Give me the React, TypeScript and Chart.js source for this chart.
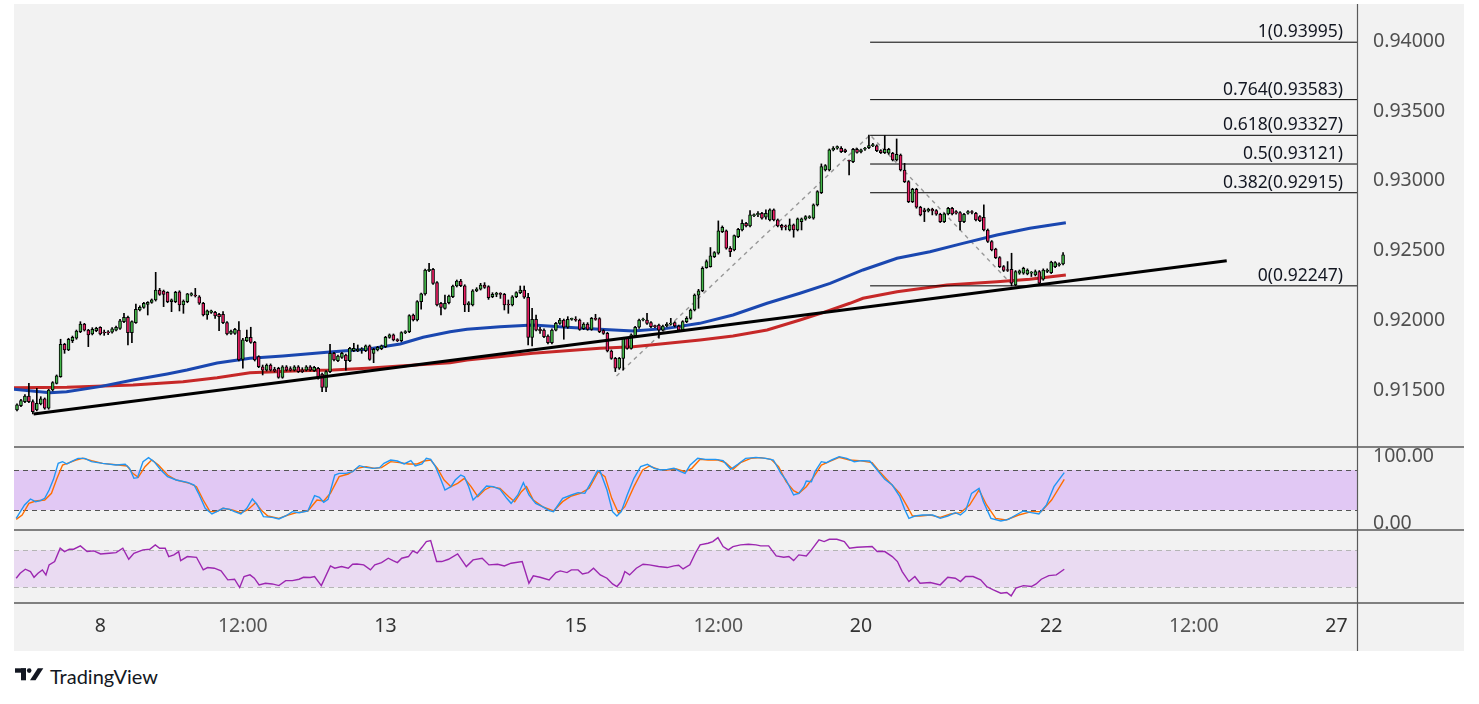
import React, { useEffect, useRef } from "react";
import { Chart, registerables } from "chart.js";

Chart.register(...registerables);

// ---------- DATA (hourly candles, index 0 = 7th 03:00) ----------
const candleOpen = [
  0.91357, 0.91388, 0.91417, 0.91457, 0.91417, 0.91357, 0.914, 0.91436, 0.91369, 0.915,
  0.91548, 0.91596, 0.91828, 0.91787, 0.91854, 0.91871, 0.91918, 0.91973, 0.9193, 0.91902,
  0.91926, 0.9195, 0.91914, 0.91911, 0.91914, 0.9193, 0.91942, 0.9199, 0.92021, 0.91911,
  0.91983, 0.92074, 0.92093, 0.92114, 0.92129, 0.92146, 0.92217, 0.9221, 0.92201, 0.92134,
  0.92134, 0.92205, 0.9211, 0.92134, 0.92181, 0.92179, 0.92169, 0.92122, 0.92038, 0.92057,
  0.92057, 0.92043, 0.92043, 0.91983, 0.91906, 0.91906, 0.9193, 0.9172, 0.91854, 0.91878,
  0.91842, 0.91739, 0.91667, 0.91643, 0.91679, 0.91648, 0.91656, 0.91591, 0.91667, 0.91653,
  0.91643, 0.91667, 0.91643, 0.91643, 0.91667, 0.91639, 0.91656, 0.91615, 0.91519, 0.91632,
  0.91763, 0.91711, 0.91734, 0.91751, 0.91711, 0.91782, 0.91782, 0.91787, 0.91782, 0.91816,
  0.91763, 0.91787, 0.91797, 0.91811, 0.91878, 0.91895, 0.91859, 0.91854, 0.91911, 0.91918,
  0.92038, 0.92002, 0.92134, 0.92189, 0.92356, 0.92365, 0.9227, 0.92122, 0.92086, 0.92126,
  0.92169, 0.92246, 0.92282, 0.92248, 0.9211, 0.9211, 0.92212, 0.92224, 0.92253, 0.92241,
  0.92169, 0.92186, 0.92189, 0.92186, 0.92114, 0.9211, 0.92169, 0.92198, 0.92217, 0.92165,
  0.91878, 0.92007, 0.91935, 0.9193, 0.91887, 0.9184, 0.9193, 0.91978, 0.92002, 0.9195,
  0.92007, 0.92007, 0.92002, 0.9194, 0.91973, 0.91935, 0.92012, 0.92012, 0.91926, 0.91906,
  0.9178, 0.91727, 0.91656, 0.91727, 0.91871, 0.91799, 0.91887, 0.9195, 0.92002, 0.92002,
  0.91983, 0.91959, 0.91966, 0.9193, 0.91959, 0.91973, 0.91983, 0.91959, 0.9193, 0.9199,
  0.92014, 0.92074, 0.92181, 0.92212, 0.92378, 0.92385, 0.92457, 0.92481, 0.92636, 0.92641,
  0.92517, 0.92505, 0.926, 0.92648, 0.92696, 0.92677, 0.92751, 0.92756, 0.92768, 0.92739,
  0.9272, 0.92792, 0.9272, 0.92682, 0.92672, 0.92648, 0.92684, 0.92648, 0.92708, 0.92725,
  0.92737, 0.92732, 0.92828, 0.92916, 0.93078, 0.93078, 0.93222, 0.93234, 0.93234, 0.93222,
  0.93145, 0.93138, 0.93227, 0.93208, 0.93227, 0.93239, 0.93253, 0.93251, 0.93217, 0.93203,
  0.93198, 0.93198, 0.9315, 0.93186, 0.93078, 0.92995, 0.92851, 0.9294, 0.92811, 0.92792,
  0.92784, 0.92796, 0.92787, 0.92761, 0.92708, 0.92763, 0.92804, 0.9278, 0.92773, 0.92708,
  0.92768, 0.92775, 0.92768, 0.92744, 0.92739, 0.92648, 0.92565, 0.9251, 0.9245, 0.92385,
  0.92361, 0.92366, 0.92254, 0.92338, 0.92338, 0.92333, 0.92338, 0.92326, 0.9235, 0.92295,
  0.9235, 0.92342, 0.92385, 0.92395, 0.92405,
];
const candleHigh = [
  0.914, 0.91433, 0.91467, 0.91548, 0.91429, 0.91512, 0.91452, 0.91443, 0.91505, 0.9156,
  0.91608, 0.91864, 0.91835, 0.91871, 0.91887, 0.9193, 0.9199, 0.91978, 0.91935, 0.91947,
  0.9195, 0.91954, 0.9193, 0.91926, 0.91947, 0.91959, 0.92007, 0.9205, 0.92031, 0.91997,
  0.92117, 0.92103, 0.92129, 0.92134, 0.92153, 0.92344, 0.92229, 0.92217, 0.92205, 0.92153,
  0.92208, 0.92212, 0.92146, 0.92193, 0.92198, 0.92229, 0.92177, 0.92129, 0.92074, 0.92074,
  0.92064, 0.9205, 0.92062, 0.9199, 0.9193, 0.91942, 0.9199, 0.91871, 0.9193, 0.9195,
  0.91849, 0.91746, 0.91679, 0.91687, 0.91687, 0.91663, 0.91663, 0.91675, 0.91675, 0.91667,
  0.91675, 0.91675, 0.9166, 0.91675, 0.91675, 0.9167, 0.91663, 0.91622, 0.91639, 0.91828,
  0.9177, 0.91751, 0.9177, 0.91758, 0.91806, 0.91835, 0.91823, 0.91804, 0.91823, 0.91823,
  0.91799, 0.91813, 0.91823, 0.91885, 0.91902, 0.91902, 0.91868, 0.91918, 0.91926, 0.9204,
  0.92045, 0.92141, 0.92196, 0.92368, 0.92408, 0.92373, 0.92277, 0.92129, 0.92181, 0.92181,
  0.92253, 0.92289, 0.92294, 0.92255, 0.92134, 0.9222, 0.92234, 0.92265, 0.9227, 0.92248,
  0.92198, 0.92201, 0.92198, 0.92193, 0.92146, 0.92177, 0.92205, 0.92246, 0.92246, 0.92193,
  0.92086, 0.92038, 0.9195, 0.91938, 0.91895, 0.91938, 0.91985, 0.92014, 0.92009, 0.92026,
  0.92016, 0.92026, 0.92009, 0.91983, 0.91983, 0.92021, 0.92043, 0.92019, 0.91933, 0.91914,
  0.91787, 0.91734, 0.91734, 0.91878, 0.91878, 0.91902, 0.91957, 0.92009, 0.92016, 0.9205,
  0.9199, 0.91966, 0.91973, 0.91966, 0.91983, 0.92014, 0.9199, 0.91966, 0.91997, 0.92026,
  0.92081, 0.92189, 0.92222, 0.92384, 0.92433, 0.92522, 0.92493, 0.92713, 0.92677, 0.92648,
  0.92529, 0.92612, 0.9266, 0.9272, 0.92703, 0.92787, 0.92763, 0.9278, 0.92775, 0.92792,
  0.92799, 0.92799, 0.92727, 0.92689, 0.92684, 0.92727, 0.92691, 0.92734, 0.92734, 0.92751,
  0.92751, 0.92835, 0.9293, 0.93122, 0.93117, 0.93229, 0.93246, 0.93251, 0.93246, 0.93229,
  0.9315, 0.93234, 0.93234, 0.93229, 0.93241, 0.93329, 0.9327, 0.93258, 0.93224, 0.93325,
  0.93234, 0.93205, 0.93301, 0.93193, 0.93126, 0.93002, 0.92947, 0.92947, 0.92818, 0.92804,
  0.92804, 0.92804, 0.92794, 0.92768, 0.9277, 0.92811, 0.92811, 0.92787, 0.9278, 0.92768,
  0.92787, 0.92787, 0.92775, 0.92751, 0.92828, 0.92655, 0.92572, 0.92517, 0.92457, 0.92393,
  0.92421, 0.92481, 0.92357, 0.92361, 0.92381, 0.92369, 0.9235, 0.92361, 0.92357, 0.92369,
  0.92369, 0.92424, 0.92421, 0.92412, 0.92486,
];
const candleLow = [
  0.9135, 0.91381, 0.91409, 0.91409, 0.91328, 0.9135, 0.91393, 0.91362, 0.91362, 0.91493,
  0.91543, 0.91591, 0.91763, 0.91782, 0.9184, 0.91864, 0.91911, 0.91923, 0.91811, 0.91895,
  0.91918, 0.91895, 0.91892, 0.91897, 0.91907, 0.91923, 0.91935, 0.91983, 0.91823, 0.9184,
  0.91978, 0.92067, 0.92086, 0.92038, 0.92122, 0.92138, 0.92179, 0.92098, 0.92126, 0.92062,
  0.92126, 0.92067, 0.9205, 0.92126, 0.92174, 0.92167, 0.92114, 0.92031, 0.92007, 0.9205,
  0.92014, 0.91926, 0.91976, 0.91895, 0.91899, 0.91899, 0.91708, 0.91656, 0.91847, 0.91835,
  0.91708, 0.9166, 0.91608, 0.91636, 0.91636, 0.91629, 0.91584, 0.91584, 0.91636, 0.91636,
  0.91636, 0.91625, 0.91625, 0.91636, 0.91636, 0.91632, 0.91577, 0.91488, 0.91488, 0.91625,
  0.91708, 0.91703, 0.91727, 0.91643, 0.91703, 0.91775, 0.91775, 0.91763, 0.91775, 0.91713,
  0.91696, 0.9178, 0.91789, 0.91804, 0.91871, 0.91852, 0.91847, 0.91847, 0.91904, 0.91911,
  0.91995, 0.91995, 0.92079, 0.92181, 0.92349, 0.92258, 0.92103, 0.92038, 0.92079, 0.92117,
  0.92162, 0.92239, 0.92241, 0.92062, 0.92062, 0.92103, 0.92205, 0.92217, 0.92229, 0.9215,
  0.92162, 0.92169, 0.92157, 0.92074, 0.9205, 0.92103, 0.92162, 0.92191, 0.92157, 0.91823,
  0.91816, 0.91923, 0.91906, 0.91875, 0.9183, 0.9183, 0.91923, 0.91971, 0.91864, 0.91942,
  0.92, 0.91993, 0.91928, 0.91933, 0.91928, 0.91928, 0.92, 0.91911, 0.91899, 0.91773,
  0.9172, 0.91632, 0.91648, 0.91643, 0.91792, 0.91792, 0.91878, 0.91942, 0.91995, 0.91971,
  0.91947, 0.91947, 0.91871, 0.91923, 0.91952, 0.91966, 0.91952, 0.91923, 0.91923, 0.91983,
  0.92007, 0.92067, 0.92086, 0.92205, 0.92373, 0.92381, 0.9245, 0.92474, 0.92629, 0.9251,
  0.92457, 0.92498, 0.92593, 0.92641, 0.9267, 0.9267, 0.92744, 0.92744, 0.92725, 0.92725,
  0.92713, 0.92713, 0.9267, 0.92648, 0.92648, 0.92641, 0.92596, 0.92641, 0.92648, 0.92718,
  0.9273, 0.92725, 0.9282, 0.92909, 0.93071, 0.93071, 0.93215, 0.93227, 0.93203, 0.93203,
  0.93043, 0.93131, 0.93198, 0.932, 0.93219, 0.93231, 0.93246, 0.9321, 0.93196, 0.93196,
  0.93191, 0.93143, 0.93143, 0.93071, 0.92988, 0.92844, 0.92844, 0.92804, 0.92749, 0.92708,
  0.92777, 0.92756, 0.92753, 0.92701, 0.92701, 0.92756, 0.92756, 0.92761, 0.92648, 0.92701,
  0.92761, 0.92763, 0.92713, 0.92708, 0.92641, 0.92558, 0.92498, 0.92443, 0.92378, 0.9235,
  0.9235, 0.92247, 0.92247, 0.9233, 0.9233, 0.92326, 0.92314, 0.92318, 0.92259, 0.92287,
  0.92342, 0.92335, 0.92378, 0.92388, 0.92397,
];
const candleClose = [
  0.91393, 0.91424, 0.91457, 0.91417, 0.91345, 0.91405, 0.91436, 0.91369, 0.915, 0.91553,
  0.91601, 0.91828, 0.91787, 0.91864, 0.91878, 0.91923, 0.91973, 0.9193, 0.91895, 0.91935,
  0.91942, 0.91902, 0.91909, 0.9191, 0.91938, 0.9195, 0.91997, 0.92021, 0.91911, 0.9199,
  0.92079, 0.92093, 0.92122, 0.92129, 0.92146, 0.92217, 0.92186, 0.92186, 0.92134, 0.92146,
  0.92201, 0.9211, 0.92138, 0.92189, 0.92191, 0.92174, 0.92122, 0.92038, 0.92067, 0.92067,
  0.92031, 0.92026, 0.91983, 0.91902, 0.91923, 0.91935, 0.91715, 0.91859, 0.91878, 0.91842,
  0.91715, 0.91667, 0.91643, 0.91679, 0.91643, 0.91636, 0.91591, 0.91667, 0.91643, 0.91643,
  0.91667, 0.91632, 0.91632, 0.91667, 0.91643, 0.91663, 0.91584, 0.91519, 0.91632, 0.91763,
  0.91715, 0.91744, 0.91763, 0.91711, 0.91799, 0.91799, 0.91792, 0.91794, 0.91816, 0.9172,
  0.91792, 0.91806, 0.91816, 0.91878, 0.91895, 0.91859, 0.91854, 0.91911, 0.91918, 0.92033,
  0.92002, 0.92134, 0.92189, 0.92361, 0.92365, 0.92265, 0.9211, 0.92093, 0.92122, 0.92174,
  0.92246, 0.92282, 0.92248, 0.9211, 0.92126, 0.92212, 0.92224, 0.92253, 0.92236, 0.92162,
  0.92186, 0.92191, 0.92186, 0.9211, 0.9211, 0.92169, 0.92198, 0.92217, 0.92165, 0.91878,
  0.92007, 0.9193, 0.91926, 0.91882, 0.9184, 0.9193, 0.91978, 0.92002, 0.9195, 0.92007,
  0.92009, 0.92, 0.91935, 0.91973, 0.91935, 0.92014, 0.92007, 0.91918, 0.91906, 0.9178,
  0.91727, 0.91656, 0.91727, 0.91871, 0.91799, 0.91895, 0.9195, 0.92002, 0.92007, 0.91978,
  0.91954, 0.91954, 0.9193, 0.91959, 0.91973, 0.91978, 0.91959, 0.9193, 0.9199, 0.92014,
  0.92074, 0.92181, 0.92212, 0.92373, 0.92421, 0.92462, 0.92486, 0.92641, 0.92667, 0.92517,
  0.92493, 0.92608, 0.92653, 0.92696, 0.92677, 0.92756, 0.92756, 0.92768, 0.92732, 0.92768,
  0.92792, 0.9272, 0.92677, 0.92667, 0.9267, 0.92684, 0.92648, 0.92727, 0.92727, 0.92744,
  0.92742, 0.92828, 0.92923, 0.93102, 0.9311, 0.93222, 0.93234, 0.93246, 0.9321, 0.9321,
  0.93141, 0.93227, 0.93205, 0.93222, 0.93234, 0.93253, 0.93258, 0.93217, 0.93203, 0.93227,
  0.93227, 0.9315, 0.93191, 0.93078, 0.92995, 0.92851, 0.9294, 0.92811, 0.92756, 0.9278,
  0.92796, 0.92784, 0.92761, 0.92708, 0.92763, 0.92804, 0.92763, 0.92768, 0.92708, 0.92761,
  0.9278, 0.92773, 0.9272, 0.92715, 0.92648, 0.92565, 0.92505, 0.9245, 0.92385, 0.92357,
  0.92357, 0.92266, 0.9235, 0.92354, 0.92373, 0.92361, 0.92342, 0.9235, 0.92266, 0.92361,
  0.92361, 0.92417, 0.92414, 0.92405, 0.92469,
];

// moving averages [candle index, price]
const maBlue = [
  [-0.8, 0.91505], [8.3, 0.91481], [12.5, 0.91488], [20.9, 0.91524], [29.3, 0.91572], [37.9, 0.91615],
  [42.9, 0.91643], [50.5, 0.91694], [58.8, 0.91727], [67.1, 0.91744], [79.7, 0.91775], [88.3, 0.91792],
  [96.7, 0.9183], [102.5, 0.91878], [109.3, 0.91918], [113.6, 0.91935], [121.9, 0.91954], [130.2, 0.91966],
  [138.8, 0.9195], [147.1, 0.91935], [155.5, 0.91923], [164, 0.91942], [172.3, 0.91978], [180.7, 0.92038],
  [189.3, 0.92122], [197.6, 0.92194], [205.2, 0.92265], [213.5, 0.92361], [222.1, 0.92445], [230.4, 0.92492],
  [238.7, 0.92552], [247.3, 0.92612], [255.6, 0.9266], [264.7, 0.927],
];
const maRed = [
  [-0.8, 0.91516], [12.6, 0.91519], [29.3, 0.91536], [41.9, 0.91559], [50.5, 0.91588], [58.8, 0.91624],
  [71.4, 0.91638], [79.7, 0.91643], [88.3, 0.91656], [96.7, 0.91672], [109.3, 0.91696], [113.6, 0.91715],
  [130.2, 0.91763], [147.1, 0.91799], [155.5, 0.9181], [172.4, 0.91859], [180.7, 0.91887], [189.3, 0.9193],
  [197.6, 0.92002], [203.4, 0.92055], [210.2, 0.92122], [213.5, 0.92158], [222.1, 0.92205], [234.7, 0.92253],
  [247.3, 0.92277], [255.6, 0.92294], [264.7, 0.92325],
];
const trendLine = [[4.2, 0.91328], [305.3, 0.92427]];
const swingPath = [[151.3, 0.916], [215.3, 0.93329], [251.4, 0.92247]];
const fibStartIdx = 215.3;
const fibLevels = [1, 0.764, 0.618, 0.5, 0.382, 0];
const fibPrices = [0.93995, 0.93583, 0.93327, 0.93121, 0.92915, 0.92247];

const stochK = [
  [-0.2, 7.5], [1.9, 27.5], [3.4, 36.5], [4.7, 32.5], [5.9, 34], [7, 37.5], [8.1, 50], [9.2, 66], [10.4, 90],
  [11.5, 92.5], [12.6, 89], [13.7, 92.5], [15.4, 97.5], [17.1, 97.5], [18.8, 92.5], [21.6, 90], [25, 87.5],
  [27.3, 88.5], [28.4, 82.5], [29.5, 67.5], [30.4, 68.5], [31.8, 92.5], [33.2, 98.5], [34.6, 92.5], [36.3, 80],
  [38, 70], [40.2, 65], [43, 61.5], [44.7, 57.5], [45.8, 45], [47.5, 22.5], [49.2, 14], [50.9, 19], [52, 22.5],
  [53.7, 21], [54.9, 17.5], [56.5, 14], [58, 22.5], [59.4, 36.5], [60.5, 29], [62.2, 10], [64.4, 9], [66.1, 6.5],
  [67.8, 11], [69.5, 17.5], [71.2, 16], [73.4, 18.5], [75.1, 41.5], [76.3, 39], [77.4, 31.5], [78.5, 36],
  [80.2, 72.5], [81.3, 75], [83, 75], [84.7, 77.5], [86.4, 86.5], [88.1, 84], [89.8, 82.5], [91.5, 83.5],
  [92.6, 90], [94.3, 95], [96, 93.5], [97.7, 89], [99.4, 94], [100.5, 86], [102.2, 89], [103.3, 97.5],
  [104.4, 96], [105.6, 85], [106.7, 70], [108, 50], [109.5, 55], [110.6, 65], [112, 72.5], [112.9, 70],
  [114, 55], [115.1, 35], [116.8, 45], [118.5, 56], [120.2, 55], [121.9, 51], [123.6, 37.5], [124.7, 30],
  [126.4, 42.5], [127.8, 61], [129.2, 42.5], [130.9, 30], [132.6, 25], [134.3, 19], [135.4, 17.5], [137.7, 37.5],
  [139.9, 42.5], [141.6, 46], [143.3, 45], [145, 62.5], [146.5, 79], [147.2, 77.5], [148.9, 50], [150.3, 17.5],
  [151.4, 11], [152.5, 17.5], [154, 42.5], [155.7, 67.5], [157.4, 85], [159.1, 88.5], [160.8, 82.5], [162.5, 80],
  [164.1, 81], [165.8, 82.5], [167.5, 77.5], [168.6, 75], [169.9, 87.5], [171.8, 97.5], [173.7, 96], [176.3, 96],
  [178.2, 94], [180.1, 81], [182, 89], [183.9, 97.5], [186.5, 99], [189, 97.5], [190.9, 95], [192.8, 75],
  [194.1, 65], [196, 42.5], [197.3, 45], [198.6, 55], [199.2, 63.5], [200.5, 62.5], [201.4, 77.5], [203, 92.5],
  [204.3, 91], [205.6, 95], [207.5, 100], [209.4, 97.5], [211.3, 92.5], [213.2, 94], [215.2, 93.5], [217.1, 80],
  [219, 66], [220.9, 57.5], [222.8, 40], [224.1, 20], [225.1, 7.5], [226.6, 11], [228.5, 12.5], [231.1, 12.5],
  [233, 7.5], [234.9, 11], [236.8, 16], [238.1, 12.5], [239.4, 19], [240.9, 45], [242.8, 52.5], [243.9, 32.5],
  [245.8, 7.5], [248.3, 3.5], [250.2, 6], [252.1, 12.5], [254, 18.5], [256, 16], [257.9, 14], [259.8, 27.5],
  [261.7, 55], [264.3, 76],
];
const stochD = [
  [-0.2, 6], [1.3, 12.5], [3, 30], [4.7, 33.5], [7, 35], [8.7, 45], [10.1, 67.5], [11.5, 87.5], [13.2, 91],
  [14.9, 95], [16.6, 97.5], [18.8, 94], [21.6, 90], [25.6, 87.5], [27.8, 86], [29.2, 75], [30.6, 69], [32.3, 85],
  [34, 95], [35.7, 87.5], [38, 72.5], [40.2, 65], [43.6, 60], [45.3, 55], [47, 35], [48.7, 17.5], [50.4, 17.5],
  [52, 22.5], [54.3, 20], [56.5, 16], [58.2, 20], [60.2, 31], [61.6, 20], [63.3, 11], [66.1, 7.5], [68.4, 12.5],
  [70.6, 16], [73.4, 18.5], [75.7, 35], [77.4, 33.5], [79.1, 45], [81.3, 70], [83.6, 74], [85.8, 82.5],
  [88.1, 85], [90.3, 82.5], [92, 83.5], [94.3, 92.5], [96.5, 91], [98.8, 89], [101, 89], [102.7, 93.5],
  [104.4, 95], [106.1, 82.5], [107.8, 65], [109.5, 55], [111.2, 60], [112.9, 67.5], [114.6, 55], [116.3, 40],
  [118, 50], [119.6, 55], [121.9, 52.5], [124.1, 40], [125.6, 32.5], [127.3, 47.5], [128.6, 55], [130.3, 35],
  [132.6, 25], [135.4, 18.5], [137.7, 32.5], [139.9, 41], [142.2, 45], [144.4, 52.5], [146.7, 77.5], [148.4, 70],
  [150.1, 37.5], [151.8, 15], [153.4, 25], [155.7, 55], [157.9, 80], [159.6, 86], [161.9, 81], [164.1, 80],
  [166.4, 81.5], [168.6, 77.5], [170.3, 82.5], [172.4, 96], [174.4, 95], [176.9, 95], [178.8, 91], [180.7, 81],
  [182.6, 91], [185.2, 97.5], [187.7, 98.5], [190.3, 96], [192.2, 85], [194.1, 62.5], [196, 49], [197.3, 45],
  [199.2, 55], [201.1, 70], [203, 87.5], [205, 92.5], [207.5, 99], [210.1, 95], [212.6, 94], [215.8, 91],
  [217.7, 77.5], [220.3, 61], [222.8, 45], [224.7, 25], [226, 11], [227.9, 11], [230.5, 12.5], [233, 9],
  [235.6, 14], [238.1, 16], [240.4, 27.5], [242.8, 50], [244.7, 27.5], [247, 7.5], [249.6, 5], [252.8, 12.5],
  [256, 17.5], [258.5, 17.5], [261.1, 35], [264.3, 66],
];
const rsiLine = [
  [-0.2, 39.8], [0.8, 45.2], [2.1, 49.5], [3.4, 47], [4.3, 40.8], [5.3, 45.2], [6.4, 48.8], [7.3, 43.4],
  [8.1, 54.2], [9.5, 57.8], [10.9, 72.2], [12, 68.6], [13.2, 71.1], [14.3, 71.1], [16, 74.7], [17.7, 68.6],
  [19.4, 69.3], [21.1, 66], [23.3, 66.8], [25, 67.5], [26.7, 72.2], [28.2, 60.3], [29.5, 66.8], [31.8, 70.4],
  [33.5, 71.1], [34.9, 75.8], [36, 72.2], [37.4, 72.2], [38.3, 63.2], [39.6, 65], [40.8, 68.6], [41.3, 58.8],
  [43, 63.2], [45.3, 62.4], [47, 48.8], [48.1, 51.3], [49.8, 50.6], [51.5, 47.7], [53.2, 38], [54.9, 38.7],
  [56.2, 29.7], [57.3, 41.6], [58.8, 43.4], [59.9, 39.8], [61.1, 32.6], [62.7, 34.4], [64.4, 33.6], [66.1, 31.8],
  [67.8, 37.2], [69.5, 37.2], [71.2, 38.7], [72.3, 40.8], [74, 40.5], [75.1, 41.6], [76.8, 31.8], [79.1, 53.1],
  [80.2, 50.6], [81.9, 52.4], [83.6, 50.6], [84.7, 54.9], [85.8, 55.2], [87.5, 54.2], [89.2, 48.8], [90.3, 54.2],
  [92, 56.7], [93.7, 61.4], [94.9, 58.8], [96, 56.7], [97.1, 61.4], [98.8, 63.2], [99.9, 69.3], [101, 66.8],
  [102.2, 73.2], [103.3, 79.4], [104.4, 80.4], [105.9, 57.8], [107.2, 57.8], [108.9, 60.3], [111.2, 66],
  [113.4, 52.4], [115.1, 59.6], [117.4, 61.4], [119.1, 54.2], [121.3, 54.9], [123, 53.1], [124.7, 56],
  [127.5, 57.8], [129.2, 34.4], [130.3, 42.3], [132, 40.8], [134.3, 38], [136, 45.9], [137.1, 47.7], [138.8, 45.9],
  [139.9, 48.8], [141.6, 48.8], [142.7, 44.4], [144.2, 45.9], [145.5, 50.6], [147.2, 43.4], [148.9, 39.8],
  [150.3, 33.6], [151.4, 30.8], [152.5, 36.2], [153.4, 47], [154.6, 43.4], [156.3, 50.6], [158, 54.9],
  [159.6, 54.2], [161.9, 52.4], [164.1, 51.3], [165.8, 53.1], [167, 53.8], [168.1, 49.8], [169.8, 54.2],
  [171.2, 66.8], [172.4, 75.8], [174.4, 77.6], [175.6, 79.4], [176.9, 83.7], [178.2, 74], [179.5, 70.4],
  [180.7, 74], [182.6, 75.8], [184.6, 76.5], [186.5, 75.8], [187.7, 74.7], [189.7, 74.7], [191.6, 63.9],
  [193.5, 62.4], [194.8, 63.2], [196, 58.8], [197.3, 65], [199.2, 63.9], [200.5, 70.4], [202.4, 81.2],
  [203.7, 79.4], [205, 81.9], [206.9, 81.9], [208.8, 79.4], [210.1, 72.2], [212, 73.2], [215.8, 74], [217.1, 68.6],
  [219, 68.6], [220.9, 63.2], [222.2, 57.8], [223.4, 47], [225.1, 36.2], [226.6, 41.6], [227.9, 34.4],
  [230.5, 35.1], [233, 32.6], [234.9, 40.8], [236.8, 39.8], [238.1, 36.2], [239.4, 41.6], [241.3, 41.6],
  [243.2, 38], [244.7, 30.8], [246.4, 27.2], [248.3, 23.6], [249.8, 24.3], [250.9, 20.7], [252.1, 29], [254, 31.8],
  [256, 30.8], [257.2, 33.6], [258.5, 38.7], [260.4, 42.6], [262.3, 43.4], [264.3, 49.5],
];
const stochBand = [20, 80];
const rsiBand = [30, 70];

const priceTicks = [0.915, 0.92, 0.925, 0.93, 0.935, 0.94];
const stochTicks = [0, 100];
const timeTickIdx = [21, 57, 93, 141, 177, 213, 261, 297, 333];
const timeTickLabels = ["8", "12:00", "13", "15", "12:00", "20", "22", "12:00", "27"];

// axis ranges
const xMin = -0.757;
const xMax = 338.18;
const priceMin = 0.91091;
const priceMax = 0.94269;
const stochMin = -10;
const stochMax = 114.5;
const rsiMin = 13.0;
const rsiMax = 91.9;

const FONT = '"Noto Sans", "DejaVu Sans", sans-serif';

export default function App() {
  const canvasRef = useRef<HTMLCanvasElement | null>(null);

  useEffect(() => {
    const canvas = canvasRef.current;
    if (!canvas) return;
    const idx = candleOpen.map((_, i) => i);
    const pts = (arr: number[][]) => arr.map(([x, y]) => ({ x, y }));
    const UP = "#43b649";
    const DOWN = "#e91e63";
    const line = (data: any[], color: string, width: number, yAxisID: string, order: number, extra: any = {}) => ({
      type: "line",
      data,
      borderColor: color,
      borderWidth: width,
      pointRadius: 0,
      tension: 0,
      fill: false,
      xAxisID: "x",
      yAxisID,
      order,
      ...extra,
    });

    const datasets: any[] = [
      line(pts(swingPath), "#979797", 1.4, "y", 14, { borderDash: [4, 4] }),
      line(pts(maRed), "#c62828", 3, "y", 13),
      line(pts(maBlue), "#1a47b0", 3, "y", 12),
      ...fibPrices.map((p) =>
        line([{ x: fibStartIdx, y: p }, { x: xMax, y: p }], "#000000", 1, "y", 11)
      ),
      {
        type: "bar",
        data: idx.map((i) => ({ x: i, y: [candleLow[i], candleHigh[i]] })),
        backgroundColor: "#000000",
        borderWidth: 0,
        barThickness: 1,
        grouped: false,
        xAxisID: "x",
        yAxisID: "y",
        order: 10,
      },
      {
        type: "bar",
        data: idx.map((i) => ({ x: i, y: [candleOpen[i], candleClose[i]] })),
        backgroundColor: idx.map((i) => (candleClose[i] >= candleOpen[i] ? UP : DOWN)),
        borderColor: "#000000",
        borderWidth: 1,
        borderSkipped: false,
        barThickness: 3,
        minBarLength: 1,
        grouped: false,
        xAxisID: "x",
        yAxisID: "y",
        order: 9,
      },
      line(pts(trendLine), "#000000", 3, "y", 4),
      line(pts(stochD), "#ff6d00", 1.4, "yStoch", 3),
      line(pts(stochK), "#2196f3", 1.4, "yStoch", 2),
      line(pts(rsiLine), "#9c27b0", 1.4, "yRsi", 2),
    ];

    const panesPlugin = {
      id: "panes",
      beforeDatasetsDraw(chart: any) {
        const { ctx, chartArea: ca, scales } = chart;
        const ys = scales.yStoch;
        const yr = scales.yRsi;
        ctx.save();
        const band = (scale: any, lo: number, hi: number, fill: string) => {
          const a = scale.getPixelForValue(hi);
          const b = scale.getPixelForValue(lo);
          ctx.fillStyle = fill;
          ctx.fillRect(ca.left, a, ca.right - ca.left, b - a);
        };
        band(ys, stochBand[0], stochBand[1], "#e1c8f4");
        band(yr, rsiBand[0], rsiBand[1], "#eadbf2");
        const dash = (scale: any, v: number, color: string) => {
          const y = Math.round(scale.getPixelForValue(v)) + 0.5;
          ctx.beginPath();
          ctx.setLineDash([5, 4]);
          ctx.strokeStyle = color;
          ctx.lineWidth = 1;
          ctx.moveTo(ca.left, y);
          ctx.lineTo(ca.right, y);
          ctx.stroke();
        };
        stochBand.forEach((v) => dash(ys, v, "#555555"));
        rsiBand.forEach((v) => dash(yr, v, "#b5b5b5"));
        ctx.restore();
      },
      afterDatasetsDraw(chart: any) {
        const { ctx, chartArea: ca, scales } = chart;
        const y = scales.y;
        ctx.save();
        ctx.font = `17.5px ${FONT}`;
        ctx.fillStyle = "#131722";
        ctx.textAlign = "right";
        ctx.textBaseline = "middle";
        fibPrices.forEach((p, k) => {
          const py = y.getPixelForValue(p);
          ctx.fillText(`${fibLevels[k]}(${p.toFixed(5)})`, ca.right - 14, py - 10);
        });
        ctx.restore();
      },
      afterDraw(chart: any) {
        const { ctx, chartArea: ca, scales, width, height } = chart;
        ctx.save();
        ctx.strokeStyle = "#5a5a5a";
        ctx.lineWidth = 1.5;
        ctx.setLineDash([]);
        [scales.y.bottom, scales.yStoch.bottom, scales.yRsi.bottom].forEach((yy: number) => {
          ctx.beginPath();
          ctx.moveTo(0, yy);
          ctx.lineTo(width, yy);
          ctx.stroke();
        });
        ctx.lineWidth = 1.2;
        ctx.beginPath();
        ctx.moveTo(ca.right + 0.5, 0);
        ctx.lineTo(ca.right + 0.5, height);
        ctx.stroke();
        ctx.restore();
      },
    };

    const yCommon = (weight: number) => ({
      type: "linear",
      position: "right",
      stack: "panes",
      stackWeight: weight,
      grid: { display: false, drawTicks: false },
      border: { display: false },
      afterFit: (s: any) => {
        s.width = 107;
        s.paddingTop = 0;
        s.paddingBottom = 0;
      },
    });

    const chart = new Chart(canvas, {
      type: "bar",
      data: { datasets },
      options: {
        responsive: false,
        animation: false,
        devicePixelRatio: 1,
        events: [],
        layout: { padding: 0, autoPadding: false },
        plugins: { legend: { display: false }, tooltip: { enabled: false } },
        scales: {
          x: {
            type: "linear",
            position: "bottom",
            min: xMin,
            max: xMax,
            offset: false,
            grid: { display: false, drawTicks: false },
            border: { display: false },
            afterBuildTicks: (s: any) => {
              s.ticks = timeTickIdx.map((v) => ({ value: v }));
            },
            afterFit: (s: any) => {
              s.height = 48;
              s.paddingLeft = 0;
              s.paddingRight = 0;
            },
            ticks: {
              autoSkip: false,
              maxRotation: 0,
              minRotation: 0,
              padding: 12,
              font: { family: FONT, size: 19.5 },
              color: (c: any) => (timeTickLabels[c.index] && timeTickLabels[c.index].includes(":") ? "#555555" : "#333333"),
              callback: (_v: any, i: number) => timeTickLabels[i],
            },
          },
          y: {
            ...yCommon(443),
            min: priceMin,
            max: priceMax,
            afterBuildTicks: (s: any) => {
              s.ticks = priceTicks.map((v) => ({ value: v }));
            },
            ticks: {
              padding: 16,
              font: { family: FONT, size: 19.5 },
              color: "#4f4f4f",
              callback: (v: any) => Number(v).toFixed(5),
            },
          },
          yStoch: {
            ...yCommon(83),
            min: stochMin,
            max: stochMax,
            afterBuildTicks: (s: any) => {
              s.ticks = stochTicks.map((v) => ({ value: v }));
            },
            ticks: {
              padding: 16,
              font: { family: FONT, size: 19.5 },
              color: "#4f4f4f",
              callback: (v: any) => Number(v).toFixed(2),
            },
          },
          yRsi: {
            ...yCommon(73),
            min: rsiMin,
            max: rsiMax,
            ticks: { display: false },
          },
        },
      } as any,
      plugins: [panesPlugin],
    } as any);

    return () => {
      chart.destroy();
    };
  }, []);

  return (
    <div
      style={{
        position: "fixed",
        left: 0,
        top: 0,
        width: 1479,
        height: 704,
        background: "#ffffff",
        overflow: "hidden",
      }}
    >
      <div
        style={{
          position: "absolute",
          left: 14,
          top: 4,
          width: 1450,
          height: 647,
          background: "#f2f2f2",
        }}
      >
        <canvas ref={canvasRef} width={1450} height={647} style={{ display: "block", width: 1450, height: 647 }} />
      </div>
      <svg style={{ position: "absolute", left: 0, top: 660 }} width={50} height={30}>
        <rect x={15} y={8.3} width={11} height={4.4} fill="#131722" />
        <rect x={21} y={8.3} width={5} height={12} fill="#131722" />
        <circle cx={29.2} cy={10.6} r={2.3} fill="#131722" />
        <polygon points="30,20.3 35.5,20.3 43.3,8.3 37.8,8.3" fill="#131722" />
      </svg>
      <span
        style={{
          position: "absolute",
          left: 50,
          top: 666,
          fontFamily: "Lato, 'Noto Sans', sans-serif",
          fontSize: 20,
          lineHeight: 1,
          color: "#131722",
          whiteSpace: "nowrap",
        }}
      >
        TradingView
      </span>
    </div>
  );
}
